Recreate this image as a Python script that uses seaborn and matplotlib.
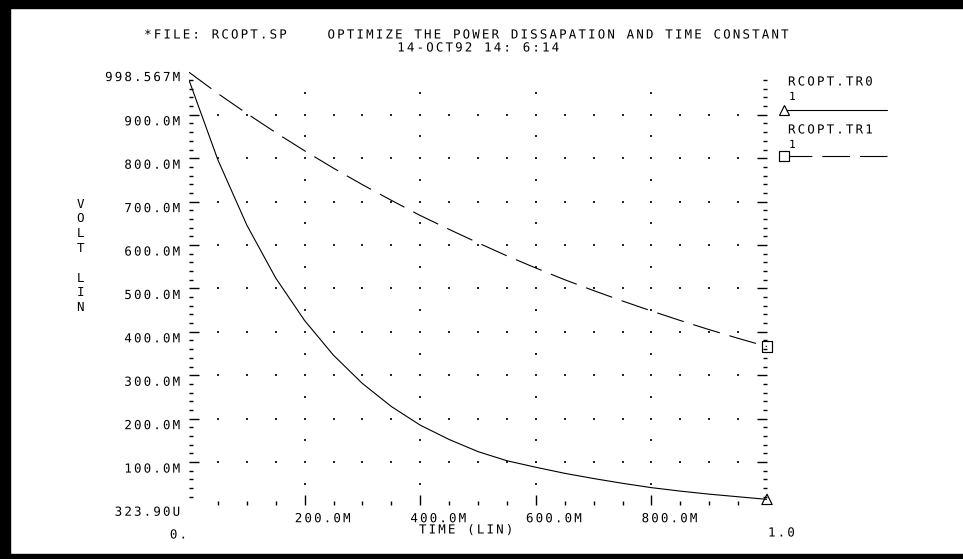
import numpy as np
import pandas as pd
import matplotlib
matplotlib.use("Agg")
import matplotlib.pyplot as plt
import matplotlib.transforms as mtransforms
from matplotlib.lines import Line2D
from matplotlib.patches import Rectangle
from matplotlib.patheffects import AbstractPathEffect
from matplotlib.path import Path
import seaborn as sns

# ---- transient results (seconds, volts) ----
time = [0.00, 0.05, 0.10, 0.15, 0.20, 0.25, 0.30, 0.35, 0.40, 0.45, 0.50,
        0.55, 0.60, 0.65, 0.70, 0.75, 0.80, 0.85, 0.90, 0.95, 1.00]
tr0 = [0.980, 0.796, 0.646, 0.524, 0.426, 0.346, 0.281, 0.228, 0.185, 0.152, 0.124,
       0.103, 0.088, 0.074, 0.062, 0.051, 0.041, 0.033, 0.026, 0.020, 0.014]
tr1 = [0.998, 0.949, 0.903, 0.859, 0.817, 0.777, 0.739, 0.703, 0.668, 0.636, 0.605,
       0.575, 0.547, 0.520, 0.495, 0.471, 0.448, 0.426, 0.405, 0.385, 0.366]
trace_names = ["RCOPT.TR0", "RCOPT.TR1"]

y_min, y_max = 323.90e-6, 998.567e-3
y_min_label, y_max_label = "323.90U", "998.567M"
y_major = [0.1, 0.2, 0.3, 0.4, 0.5, 0.6, 0.7, 0.8, 0.9]
y_labels = ["100.0M", "200.0M", "300.0M", "400.0M", "500.0M",
            "600.0M", "700.0M", "800.0M", "900.0M"]
x_major = [0.2, 0.4, 0.6, 0.8]
x_labels = ["200.0M", "400.0M", "600.0M", "800.0M"]
x_start_label, x_end_label = "0.", "1.0"

title_line1 = "*FILE: RCOPT.SP    OPTIMIZE THE POWER DISSAPATION AND TIME CONSTANT"
title_line2 = "14-OCT92 14: 6:14"
x_title = "TIME (LIN)"
y_title = "V\nO\nL\nT\n\nL\nI\nN"


# ---- plotter-style letter spacing for the monospaced font ----
MONO_ADV = 1233 / 2048 * 100   # DejaVu Sans Mono advance in text-path units


class Tracking(AbstractPathEffect):
    """Spread the glyphs of a monospaced string apart, keeping its alignment."""

    def __init__(self, extra=17.0, align="left"):
        super().__init__()
        self.extra = extra
        self.align = align

    def draw_path(self, renderer, gc, tpath, affine, rgbFace=None):
        codes = tpath.codes
        verts = np.array(tpath.vertices, dtype=float)
        if codes is not None and len(verts):
            starts = list(np.where(codes == Path.MOVETO)[0]) + [len(codes)]
            last = 0
            for a, b in zip(starts[:-1], starts[1:]):
                keep = codes[a:b] != Path.CLOSEPOLY
                xs = verts[a:b, 0][keep]
                if len(xs) == 0:
                    continue
                idx = int(np.floor((xs.min() + xs.max()) / 2 / MONO_ADV))
                verts[a:b, 0] += idx * self.extra
                last = max(last, idx)
            grow = last * self.extra
            if self.align == "center":
                verts[:, 0] -= grow / 2
            elif self.align == "right":
                verts[:, 0] -= grow
            tpath = Path(verts, codes)
        renderer.draw_path(gc, tpath, affine, rgbFace)


# ---- figure setup ----
sns.set_theme(style="white")
plt.rcParams["font.family"] = ["DejaVu Sans Mono"]
plt.rcParams["text.color"] = "black"
FS = 9

W, H = 963, 559
fig = plt.figure(figsize=(W / 100, H / 100), dpi=100, facecolor="white")


def fx(px):
    return px / W


def fy(py):
    return 1 - py / H


ax_left, ax_right, ax_top, ax_bottom = 189, 767, 72, 505.3
ax = fig.add_axes([fx(ax_left), fy(ax_bottom), fx(ax_right - ax_left),
                   (ax_bottom - ax_top) / H])
ax.set_facecolor("white")

df = pd.DataFrame({
    "time": time * 2,
    "volt": tr0 + tr1,
    "trace": [trace_names[0]] * len(time) + [trace_names[1]] * len(time),
})

LW = 0.8
dash_pattern = (25, 9)
sns.lineplot(data=df, x="time", y="volt", style="trace",
             dashes={trace_names[0]: "", trace_names[1]: dash_pattern},
             color="black", linewidth=LW, legend=False, ax=ax)

# end-point markers
ends = pd.DataFrame({"time": [time[-1], time[-1]],
                     "volt": [tr0[-1], tr1[-1]],
                     "trace": trace_names})
sns.scatterplot(data=ends, x="time", y="volt", style="trace",
                markers={trace_names[0]: "^", trace_names[1]: "s"},
                s=55, facecolor="none", edgecolor="black", linewidth=0.85,
                legend=False, ax=ax, clip_on=False, zorder=5)

# dotted grid: rows at each labelled level, columns at each labelled time
grid_x = np.round(np.arange(0.05, 1.0, 0.05), 3)
grid_y = np.round(np.arange(0.05, 0.99, 0.05), 3)
row_pts = [(gx, gy) for gy in y_major for gx in grid_x]
col_pts = [(gx, gy) for gx in x_major for gy in grid_y]
pts = np.array(row_pts + col_pts)
ax.scatter(pts[:, 0], pts[:, 1], s=1.1, color="0.15", marker="s",
           linewidths=0, zorder=1)

ax.set_xlim(0, 1)
ax.set_ylim(y_min, y_max)
for sp in ax.spines.values():
    sp.set_visible(False)
ax.grid(False)
ax.set_xlabel("")
ax.set_ylabel("")

ax.set_xticks(x_major, x_labels)
ax.set_xticks(np.round(np.arange(0.05, 1.0, 0.05), 3), minor=True)
ax.set_yticks(y_major, y_labels)
ax.set_yticks(np.round(np.arange(0.02, 0.99, 0.02), 3), minor=True)

ax.tick_params(axis="both", which="both", direction="in", colors="black",
               bottom=True, left=True, top=False, right=True, labelsize=FS)
ax.tick_params(axis="y", which="major", length=7, width=1.0, pad=6.5,
               labelright=False)
ax.tick_params(axis="y", which="minor", length=2.6, width=1.0)
ax.tick_params(axis="x", which="major", length=7, width=1.0, pad=5)
ax.tick_params(axis="x", which="minor", length=3, width=1.0)

y_shift = mtransforms.ScaledTranslation(0, -4 / 72, fig.dpi_scale_trans)
for lab in ax.get_yticklabels():
    lab.set_transform(lab.get_transform() + y_shift)
    lab.set_path_effects([Tracking(align="right")])
x_shift = mtransforms.ScaledTranslation(18 / 100, 0, fig.dpi_scale_trans)
for lab in ax.get_xticklabels():
    lab.set_transform(lab.get_transform() + x_shift)
    lab.set_path_effects([Tracking(align="center")])

# extreme values of the vertical axis
for val, lab, dy in [(y_max, y_max_label, -4), (y_min, y_min_label, -5)]:
    ax.annotate(lab, xy=(0, val), xycoords=("axes fraction", "data"),
                xytext=(-6.5, dy), textcoords="offset points",
                ha="right", va="center", fontsize=FS,
                path_effects=[Tracking(align="right")])


def label(xp, yp, s, ha="center", size=FS, **kw):
    fig.text(fx(xp), fy(yp), s, ha=ha, va="center", fontsize=size,
             path_effects=[Tracking(align=ha)], **kw)


# texts around the plot
label(465.5, 35, title_line1)
label(478, 48, title_line2)
label(466, 530, x_title)
label(187, 535, x_start_label, ha="right")
label(768, 533, x_end_label, ha="left")
fig.text(fx(80), fy(256), y_title, ha="center", va="center", fontsize=FS,
         linespacing=1.18, multialignment="center")

# trace key on the right
key_rows = [(82, 97, 110, "", "^"), (130, 145, 156, dash_pattern, "s")]
for name, (ty, oy, ly, dash, mk) in zip(trace_names, key_rows):
    label(788, ty, name, ha="left")
    label(789, oy, "1", ha="left", size=FS - 1)
    line = Line2D([fx(784), fx(887)], [fy(ly), fy(ly)], transform=fig.transFigure,
                  color="black", linewidth=LW)
    if dash:
        line.set_dashes(dash)
    fig.add_artist(line)
    fig.add_artist(Line2D([fx(784)], [fy(ly)], transform=fig.transFigure,
                          marker=mk, markersize=7.5, markerfacecolor="white",
                          markeredgecolor="black", markeredgewidth=0.85,
                          linestyle="none"))

# page frame (left, top and bottom edges)
for (x0, y0, w, h) in [(0, 0, 10, H), (0, 0, W, 8), (0, H - 5, W, 5)]:
    fig.add_artist(Rectangle((fx(x0), fy(y0 + h)), fx(w), h / H,
                             transform=fig.transFigure, color="black", zorder=10))

fig.savefig("out.png", dpi=100, facecolor="white")
